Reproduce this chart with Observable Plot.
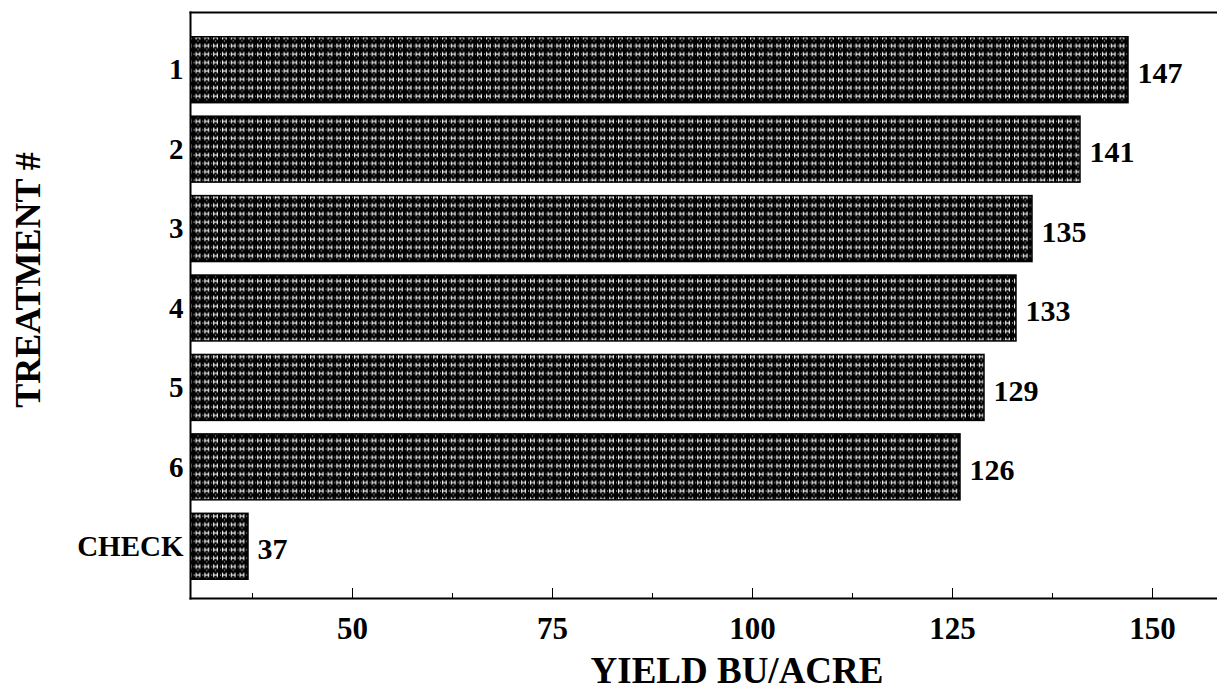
<!DOCTYPE html>
<html>
<head>
<meta charset="utf-8">
<script src="https://cdn.jsdelivr.net/npm/d3@7"></script>
<script src="https://cdn.jsdelivr.net/npm/@observablehq/plot@0.6"></script>
<style>
  html, body { margin: 0; padding: 0; background: #fff; }
  svg { display: block; }
</style>
</head>
<body>
<div id="chart"></div>
<script>
const categories = ["1", "2", "3", "4", "5", "6", "CHECK"];
const yields = [147, 141, 135, 133, 129, 126, 37];
const majorTicks = [50, 75, 100, 125, 150];
const minorTicks = [37.5, 62.5, 87.5, 112.5, 137.5];
const xLabel = "YIELD BU/ACRE";
const yLabel = "TREATMENT #";

const data = categories.map((c, i) => ({category: c, value: yields[i]}));

const NS = "http://www.w3.org/2000/svg";
function patternDefs() {
  const defs = document.createElementNS(NS, "defs");
  const p = document.createElementNS(NS, "pattern");
  p.setAttribute("id", "hpat");
  p.setAttribute("patternUnits", "userSpaceOnUse");
  p.setAttribute("width", "8.8");
  p.setAttribute("height", "8.4");
  const add = (tag, attrs) => {
    const e = document.createElementNS(NS, tag);
    for (const k in attrs) e.setAttribute(k, attrs[k]);
    p.appendChild(e);
  };
  add("rect", {x: 0, y: 0, width: 8.8, height: 8.4, fill: "#000"});
  add("rect", {x: 2, y: 1.5, width: 1.1, height: 4.5, fill: "#fff"});
  add("rect", {x: 5.6, y: 1.5, width: 1.1, height: 4.5, fill: "#fff"});
  add("rect", {x: 2, y: 3.3, width: 4.7, height: 1, fill: "#fff"});
  add("rect", {x: 4, y: 7, width: 0.9, height: 0.9, fill: "#fff"});
  add("rect", {x: 0, y: 3.2, width: 0.8, height: 1.2, fill: "#fff"});
  defs.appendChild(p);
  return defs;
}

const chart = Plot.plot({
  width: 1217,
  height: 691,
  marginLeft: 190,
  marginRight: 0,
  marginTop: 12,
  marginBottom: 93,
  style: {fontFamily: "'Liberation Serif', 'Times New Roman', serif", fontWeight: "bold", color: "#000", background: "#fff"},
  x: {domain: [29.75, 158.125]},
  y: {domain: categories, paddingInner: 0.17, paddingOuter: 0.085, round: false, insetTop: 18, insetBottom: 12},
  marks: [
    () => patternDefs(),
    Plot.barX(data, {x: "value", y: "category", fill: "url(#hpat)", stroke: "#000", strokeWidth: 1.5, clip: true}),
    Plot.text(data, {x: "value", y: "category", text: d => String(d.value), dx: 9, dy: 3, textAnchor: "start", fontSize: 30, fontWeight: "bold", fill: "#000"}),
    Plot.axisY({tickSize: 0, tickPadding: 7, fontSize: 29, fontWeight: "bold", label: null}),
    Plot.axisX({ticks: majorTicks, tickSize: 0, tickPadding: 18, fontSize: 31, fontWeight: "bold", label: null}),
    Plot.axisX({ticks: majorTicks, tickSize: -10, text: null, label: null, strokeWidth: 1}),
    Plot.axisX({ticks: minorTicks, tickSize: -5, text: null, label: null, strokeWidth: 1}),
    Plot.frame({anchor: "left", strokeWidth: 2}),
    Plot.frame({anchor: "top", strokeWidth: 2}),
    Plot.frame({anchor: "bottom", strokeWidth: 2}),
    Plot.text([xLabel], {frameAnchor: "bottom", dx: 33, dy: 84, lineAnchor: "bottom", fontSize: 37, fontWeight: "bold", fill: "#000"})
  ]
});

d3.select(chart).append("text")
  .attr("transform", "translate(28,280) rotate(-90)")
  .attr("text-anchor", "middle")
  .attr("dominant-baseline", "central")
  .attr("font-size", 36)
  .attr("font-weight", "bold")
  .attr("fill", "#000")
  .text(yLabel);

document.getElementById("chart").appendChild(chart);
</script>
</body>
</html>
